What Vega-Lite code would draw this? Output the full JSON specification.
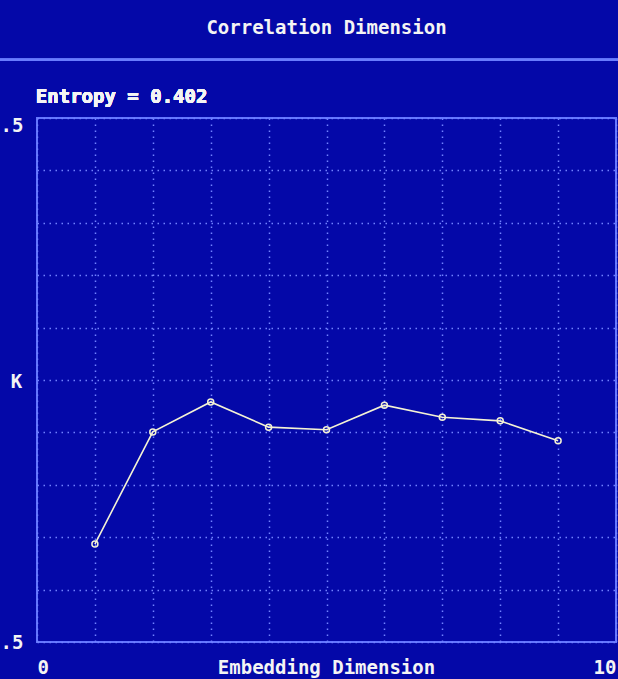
{
  "$schema": "https://vega.github.io/schema/vega-lite/v6.json",
  "autosize": "none",
  "width": 579,
  "height": 524,
  "padding": {"left": 37, "top": 118, "right": 2, "bottom": 37},
  "background": "#0408a8",
  "title": {
    "text": "Correlation Dimension",
    "font": "DejaVu Sans Mono",
    "fontWeight": "bold",
    "fontSize": 19,
    "color": "#f4f4f4",
    "anchor": "middle",
    "baseline": "alphabetic",
    "offset": 6
  },
  "config": {
    "view": {"stroke": "#6476ff", "strokeWidth": 2},
    "font": "DejaVu Sans Mono",
    "axis": {
      "domain": false,
      "ticks": false,
      "grid": true,
      "gridColor": "#7282ff",
      "gridDash": [1.5, 4.5],
      "gridWidth": 1.5,
      "labelFont": "DejaVu Sans Mono",
      "labelFontWeight": "bold",
      "labelFontSize": 19,
      "labelColor": "#f4f4f4",
      "titleFont": "DejaVu Sans Mono",
      "titleFontWeight": "bold",
      "titleFontSize": 19,
      "titleColor": "#f4f4f4"
    }
  },
  "data": {
    "values": [
      {"dim": 1, "k": 0.687},
      {"dim": 2, "k": 0.901},
      {"dim": 3, "k": 0.958},
      {"dim": 4, "k": 0.910},
      {"dim": 5, "k": 0.905},
      {"dim": 6, "k": 0.952},
      {"dim": 7, "k": 0.929},
      {"dim": 8, "k": 0.922},
      {"dim": 9, "k": 0.884}
    ]
  },
  "encoding": {
    "x": {
      "field": "dim",
      "type": "quantitative",
      "scale": {"domain": [0, 10], "nice": false, "zero": false},
      "axis": {
        "values": [0, 1, 2, 3, 4, 5, 6, 7, 8, 9, 10],
        "labelExpr": "(datum.value == 0 || datum.value == 10) ? datum.label : ''",
        "labelFlush": true,
        "labelPadding": 16,
        "title": "Embedding Dimension",
        "titleBaseline": "alphabetic",
        "titleY": 31,
        "titleX": 289
      }
    },
    "y": {
      "field": "k",
      "type": "quantitative",
      "scale": {"domain": [0.5, 1.5], "nice": false, "zero": false},
      "axis": {
        "values": [0.5, 0.6, 0.7, 0.8, 0.9, 1.0, 1.1, 1.2, 1.3, 1.4, 1.5],
        "format": ".1f",
        "labelExpr": "(datum.value == 0.5 || datum.value == 1.5) ? slice(datum.label, -2) : ''",
        "labelPadding": 14,
        "labelBaseline": {"condition": {"test": "datum.value == 1.5", "value": "top"}, "value": "middle"},
        "labelOffset": {"condition": {"test": "datum.value == 1.5", "value": -2}, "value": 0},
        "title": "K",
        "titleAngle": 0,
        "titleAlign": "center",
        "titleBaseline": "middle",
        "titleX": -21,
        "titleY": 263
      }
    }
  },
  "layer": [
    {
      "mark": {"type": "rule", "clip": false, "color": "#6a7cff", "strokeWidth": 2},
      "encoding": {
        "x": {"datum": -0.65},
        "x2": {"datum": 10.1},
        "y": {"datum": 1.611}
      }
    },
    {
      "mark": {
        "type": "text",
        "clip": false,
        "align": "left",
        "baseline": "alphabetic",
        "font": "DejaVu Sans Mono",
        "fontWeight": "bold",
        "fontSize": 19,
        "color": "#f4f4f4"
      },
      "encoding": {
        "x": {"datum": -0.02},
        "y": {"datum": 1.528},
        "text": {"value": "Entropy = 0.402"}
      }
    },
    {
      "mark": {"type": "line", "color": "#f4f2d4", "strokeWidth": 1.6}
    },
    {
      "mark": {
        "type": "point",
        "shape": "circle",
        "size": 36,
        "filled": false,
        "stroke": "#f4f2d4",
        "strokeWidth": 1.5,
        "opacity": 1
      }
    }
  ]
}
